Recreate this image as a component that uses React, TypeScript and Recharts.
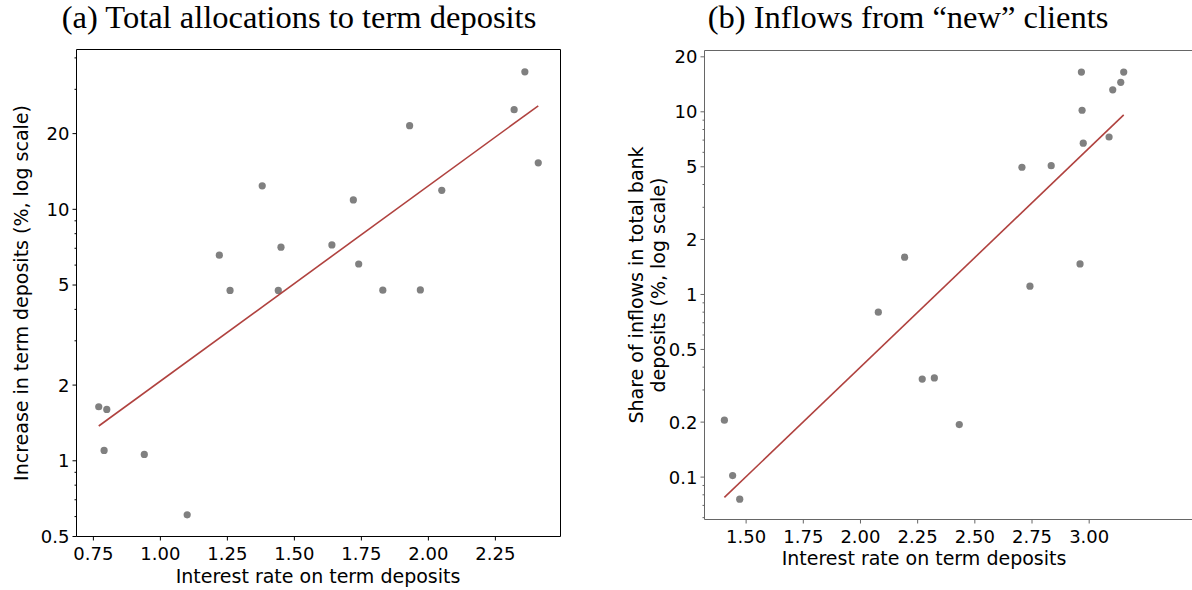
import { ScatterChart, Scatter, XAxis, YAxis, Label } from 'recharts';

// (a) total allocations to term deposits
const rateA = [0.77, 0.8, 0.79, 0.94, 1.1, 1.22, 1.26, 1.38, 1.44, 1.45, 1.64, 1.72, 1.74, 1.83, 1.93, 1.97, 2.05, 2.32, 2.36, 2.41];
const allocA = [1.64, 1.6, 1.1, 1.06, 0.61, 6.57, 4.76, 12.4, 4.76, 7.07, 7.22, 10.9, 6.06, 4.77, 21.5, 4.78, 11.9, 24.9, 35.2, 15.3];
const fitRateA = [0.77, 2.41];
const fitAllocA = [1.375, 25.8];

// (b) inflows from "new" clients
const rateB = [1.405, 1.441, 1.472, 2.078, 2.193, 2.27, 2.323, 2.432, 2.706, 2.741, 2.834, 2.96, 2.966, 2.969, 2.974, 3.087, 3.103, 3.138, 3.151];
const inflowB = [0.205, 0.102, 0.0757, 0.8, 1.6, 0.344, 0.349, 0.194, 4.97, 1.11, 5.07, 1.47, 16.5, 10.2, 6.73, 7.28, 13.2, 14.5, 16.5];
const fitRateB = [1.405, 3.151];
const fitInflowB = [0.0774, 9.62];

const xTicksA = [0.75, 1.0, 1.25, 1.5, 1.75, 2.0, 2.25];
const yMajorA = [0.5, 1, 2, 5, 10, 20];
const yMinorA = [0.6, 0.7, 0.8, 0.9, 3, 4, 6, 7, 8, 9, 30, 40];
const xTicksB = [1.5, 1.75, 2.0, 2.25, 2.5, 2.75, 3.0];
const yMajorB = [0.1, 0.2, 0.5, 1, 2, 5, 10, 20];
const yMinorB = [0.06, 0.07, 0.08, 0.09, 0.3, 0.4, 0.6, 0.7, 0.8, 0.9, 3, 4, 6, 7, 8, 9];

const pts = (xs: number[], ys: number[]) => xs.map((x, i) => ({ x, y: ys[i] }));

const SANS = 'DejaVu Sans';
const DOT = '#808080';
const FIT = '#b0423f';

const dot = (p: any) => <circle cx={p.cx} cy={p.cy} r={3.6} fill={DOT} />;
const noDot = () => <g />;

function LogTick(props: any) {
  const { x, payload, majors, color } = props;
  const y = payload.coordinate;
  const major = majors.includes(payload.value);
  return (
    <g>
      <line x1={x - (major ? 4 : 2)} x2={x} y1={y} y2={y} stroke={color} strokeWidth={1} />
      {major && (
        <text x={x - 7} y={y} dy="0.36em" textAnchor="end" fill="#000" fontSize={18} fontFamily={SANS}>
          {String(payload.value)}
        </text>
      )}
    </g>
  );
}

const fmt2 = (v: number) => v.toFixed(2);

function ChartA() {
  return (
    <ScatterChart width={600} height={590} margin={{ top: 48.5, right: 38.5, bottom: 0, left: 0.5 }}>
      <XAxis
        type="number"
        dataKey="x"
        domain={[0.687, 2.493]}
        ticks={xTicksA}
        interval={0}
        allowDataOverflow
        tickFormatter={fmt2}
        height={53.5}
        tickSize={4}
        tickMargin={7}
        axisLine={{ stroke: '#000' }}
        tickLine={{ stroke: '#000' }}
        tick={{ fill: '#000', fontSize: 18, fontFamily: SANS }}
      >
        <Label
          content={() => (
            <text x={318} y={583} textAnchor="middle" fill="#000" fontSize={19} fontFamily={SANS}>
              Interest rate on term deposits
            </text>
          )}
        />
      </XAxis>
      <XAxis xAxisId="top" orientation="top" type="number" domain={[0, 1]} height={1} tick={false} tickLine={false} axisLine={{ stroke: '#000' }} />
      <YAxis
        type="number"
        dataKey="y"
        scale="log"
        domain={[0.5, 43.2]}
        ticks={[...yMajorA, ...yMinorA]}
        interval={0}
        allowDataOverflow
        width={76}
        tickSize={0}
        tickMargin={0}
        tickLine={false}
        axisLine={{ stroke: '#000' }}
        tick={(p: any) => <LogTick {...p} majors={yMajorA} color="#000" />}
      >
        <Label
          content={() => (
            <text x={28} y={293} transform="rotate(-90 28 293)" textAnchor="middle" fill="#000" fontSize={19} fontFamily={SANS}>
              Increase in term deposits (%, log scale)
            </text>
          )}
        />
      </YAxis>
      <YAxis yAxisId="right" orientation="right" type="number" domain={[0, 1]} width={1} tick={false} tickLine={false} axisLine={{ stroke: '#000' }} />
      <Scatter data={pts(rateA, allocA)} shape={dot} isAnimationActive={false} />
      <Scatter data={pts(fitRateA, fitAllocA)} shape={noDot} line={{ stroke: FIT, strokeWidth: 1.6 }} isAnimationActive={false} />
    </ScatterChart>
  );
}

const GRAYAX = '#666';

function ChartB() {
  return (
    <ScatterChart width={640} height={590} margin={{ top: 49.5, right: 20, bottom: 0, left: 24.5 }}>
      <XAxis
        type="number"
        dataKey="x"
        domain={[1.318, 3.572]}
        ticks={xTicksB}
        interval={0}
        allowDataOverflow
        tickFormatter={fmt2}
        height={70.5}
        tickSize={4}
        tickMargin={7}
        axisLine={{ stroke: GRAYAX }}
        tickLine={{ stroke: GRAYAX }}
        tick={{ fill: '#000', fontSize: 18, fontFamily: SANS }}
      >
        <Label
          content={() => (
            <text x={324} y={565} textAnchor="middle" fill="#000" fontSize={19} fontFamily={SANS}>
              Interest rate on term deposits
            </text>
          )}
        />
      </XAxis>
      <XAxis xAxisId="top" orientation="top" type="number" domain={[0, 1]} height={1} tick={false} tickLine={false} axisLine={{ stroke: GRAYAX }} />
      <YAxis
        type="number"
        dataKey="y"
        scale="log"
        domain={[0.0586, 21.66]}
        ticks={[...yMajorB, ...yMinorB]}
        interval={0}
        allowDataOverflow
        width={80}
        tickSize={0}
        tickMargin={0}
        tickLine={false}
        axisLine={{ stroke: GRAYAX }}
        tick={(p: any) => <LogTick {...p} majors={yMajorB} color={GRAYAX} />}
      >
        <Label
          content={() => (
            <text transform="rotate(-90 43 285)" x={43} y={285} textAnchor="middle" fill="#000" fontSize={19} fontFamily={SANS}>
              <tspan x={43} dy="0">Share of inflows in total bank</tspan>
              <tspan x={43} dy="22">deposits (%, log scale)</tspan>
            </text>
          )}
        />
      </YAxis>
      <Scatter data={pts(rateB, inflowB)} shape={dot} isAnimationActive={false} />
      <Scatter data={pts(fitRateB, fitInflowB)} shape={noDot} line={{ stroke: FIT, strokeWidth: 1.6 }} isAnimationActive={false} />
    </ScatterChart>
  );
}

export default function App() {
  return (
    <div style={{ position: 'absolute', left: 0, top: 0, width: 1192, height: 590, overflow: 'hidden', background: '#fff' }}>
      <div style={{ position: 'absolute', left: 0, top: 0 }}>
        <ChartA />
      </div>
      <div style={{ position: 'absolute', left: 600, top: 0 }}>
        <ChartB />
      </div>
      <svg width={1192} height={50} style={{ position: 'absolute', left: 0, top: 0 }}>
        <text x={299} y={28} textAnchor="middle" fontFamily="Liberation Serif" fontSize={32.5} fill="#000">
          (a) Total allocations to term deposits
        </text>
        <text x={908} y={28} textAnchor="middle" fontFamily="Liberation Serif" fontSize={32.5} fill="#000">
          (b) Inflows from “new” clients
        </text>
      </svg>
    </div>
  );
}
